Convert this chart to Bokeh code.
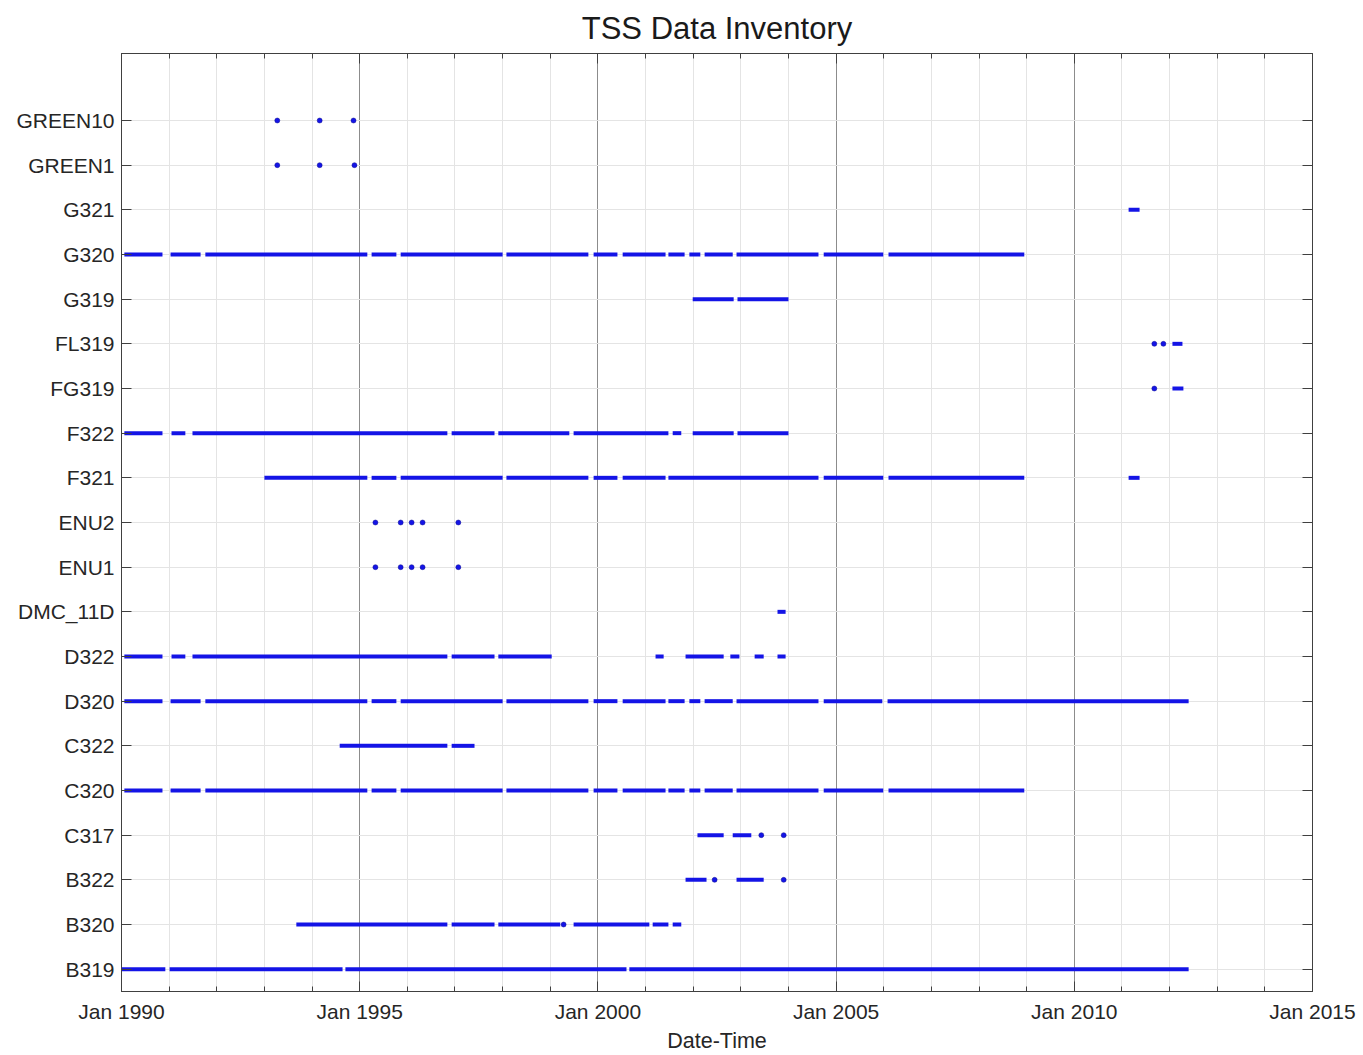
from bokeh.plotting import figure
from bokeh.models import (ColumnDataSource, FixedTicker, CustomJSTickFormatter, LinearAxis)
from bokeh.embed import file_html
from bokeh.resources import INLINE

# Stations, bottom to top
stations = ["B319", "B320", "B322", "C317", "C320", "C322", "D320", "D322",
            "DMC_11D", "ENU1", "ENU2", "F321", "F322", "FG319", "FL319",
            "G319", "G320", "G321", "GREEN1", "GREEN10"]

# Data availability ranges (decimal years, start, end); start == end is a single sample
B319 = [(1990.00, 1990.92), (1991.01, 1994.64), (1994.70, 2000.60), (2000.66, 2012.40)]
B320 = [(1993.67, 1996.84), (1996.93, 1997.83), (1997.91, 1999.21), (1999.28, 1999.28),
        (1999.49, 2001.08), (2001.15, 2001.48), (2001.57, 2001.75)]
B322 = [(2001.84, 2002.28), (2002.45, 2002.45), (2002.91, 2003.48), (2003.90, 2003.90)]
C317 = [(2002.09, 2002.64), (2002.83, 2003.22), (2003.43, 2003.43), (2003.90, 2003.90)]
C320 = [(1990.06, 1990.86), (1991.03, 1991.66), (1991.76, 1995.16), (1995.25, 1995.77),
        (1995.86, 1998.00), (1998.08, 1999.80), (1999.91, 2000.41), (2000.52, 2001.42),
        (2001.48, 2001.82), (2001.92, 2002.15), (2002.24, 2002.83), (2002.91, 2004.63),
        (2004.74, 2005.99), (2006.10, 2008.95)]
C322 = [(1994.58, 1996.84), (1996.93, 1997.41)]
D320 = [(1990.06, 1990.86), (1991.03, 1991.66), (1991.76, 1995.16), (1995.25, 1995.77),
        (1995.86, 1998.00), (1998.08, 1999.80), (1999.91, 2000.41), (2000.52, 2001.42),
        (2001.48, 2001.82), (2001.92, 2002.15), (2002.24, 2002.83), (2002.91, 2004.63),
        (2004.74, 2005.97), (2006.08, 2012.40)]
D322 = [(1990.06, 1990.86), (1991.05, 1991.34), (1991.49, 1996.84), (1996.93, 1997.83),
        (1997.91, 1999.03), (2001.21, 2001.38), (2001.84, 2002.64), (2002.78, 2002.97),
        (2003.29, 2003.48), (2003.77, 2003.94)]
DMC_11D = [(2003.77, 2003.94)]
ENU1 = [(1995.33, 1995.33), (1995.86, 1995.86), (1996.09, 1996.09), (1996.32, 1996.32),
        (1997.07, 1997.07)]
ENU2 = [(1995.33, 1995.33), (1995.86, 1995.86), (1996.09, 1996.09), (1996.32, 1996.32),
        (1997.07, 1997.07)]
F321 = [(1993.00, 1995.16), (1995.25, 1995.77), (1995.86, 1998.00), (1998.08, 1999.80),
        (1999.91, 2000.41), (2000.52, 2001.42), (2001.48, 2004.63), (2004.74, 2005.99),
        (2006.10, 2008.95), (2011.14, 2011.37)]
F322 = [(1990.06, 1990.86), (1991.05, 1991.34), (1991.49, 1996.84), (1996.93, 1997.83),
        (1997.91, 1999.40), (1999.49, 2001.48), (2001.57, 2001.75), (2001.99, 2002.85),
        (2002.93, 2004.00)]
FG319 = [(2011.68, 2011.68), (2012.06, 2012.29)]
FL319 = [(2011.68, 2011.68), (2011.87, 2011.87), (2012.06, 2012.27)]
G319 = [(2001.99, 2002.85), (2002.93, 2004.00)]
G320 = [(1990.06, 1990.86), (1991.03, 1991.66), (1991.76, 1995.16), (1995.25, 1995.77),
        (1995.86, 1998.00), (1998.08, 1999.80), (1999.91, 2000.41), (2000.52, 2001.42),
        (2001.48, 2001.82), (2001.92, 2002.15), (2002.24, 2002.83), (2002.91, 2004.63),
        (2004.74, 2005.99), (2006.10, 2008.95)]
G321 = [(2011.14, 2011.37)]
GREEN1 = [(1993.27, 1993.27), (1994.16, 1994.16), (1994.89, 1994.89)]
GREEN10 = [(1993.27, 1993.27), (1994.16, 1994.16), (1994.87, 1994.87)]

inventory = {"B319": B319, "B320": B320, "B322": B322, "C317": C317, "C320": C320,
             "C322": C322, "D320": D320, "D322": D322, "DMC_11D": DMC_11D, "ENU1": ENU1,
             "ENU2": ENU2, "F321": F321, "F322": F322, "FG319": FG319, "FL319": FL319,
             "G319": G319, "G320": G320, "G321": G321, "GREEN1": GREEN1, "GREEN10": GREEN10}

year_ticks = [1990, 1995, 2000, 2005, 2010, 2015]
minor_years = list(range(1990, 2016))

x0, x1, ys, px, py = [], [], [], [], []
for i, name in enumerate(stations):
    for (a, b) in inventory[name]:
        if a == b:
            px.append(a)
            py.append(i + 1)
        else:
            x0.append(a)
            x1.append(b)
            ys.append(i + 1)

seg_src = ColumnDataSource(dict(x0=x0, x1=x1, y=ys))
pt_src = ColumnDataSource(dict(x=px, y=py))

FONT = "Liberation Sans"
TXT = "#262626"
BLUE = "#1414e6"

p = figure(title="TSS Data Inventory", x_range=(1990, 2015), y_range=(0.5, 21.5),
           frame_width=1191, frame_height=938, output_backend="svg",
           toolbar_location=None, min_border_left=121, min_border_right=45,
           min_border_top=53, min_border_bottom=3, background_fill_color="white")

p.title.align = "center"
p.title.vertical_align = "top"
p.title.text_font = FONT
p.title.text_font_size = "31px"
p.title.text_font_style = "normal"
p.title.text_color = "#1a1a1a"
p.title.standoff = 12

p.segment(x0="x0", y0="y", x1="x1", y1="y", source=seg_src, line_color=BLUE,
          line_width=4, line_cap="butt")
p.scatter(x="x", y="y", source=pt_src, size=5, fill_color=BLUE, line_color="#101090",
          line_width=0.5)

xt = FixedTicker(ticks=year_ticks, minor_ticks=minor_years)
yt = FixedTicker(ticks=list(range(1, len(stations) + 1)), minor_ticks=[])

p.xaxis.ticker = xt
p.xaxis.formatter = CustomJSTickFormatter(code="return 'Jan ' + tick.toFixed(0)")
p.xaxis.axis_label = "Date-Time"
p.yaxis.ticker = yt
p.yaxis.formatter = CustomJSTickFormatter(args=dict(names=stations),
                                          code="return names[Math.round(tick) - 1]")

for ax in [p.xaxis[0], p.yaxis[0]]:
    ax.major_label_text_font = FONT
    ax.major_label_text_font_size = "21px"
    ax.major_label_text_color = TXT
    ax.axis_label_text_font = FONT
    ax.axis_label_text_font_size = "21.5px"
    ax.axis_label_text_font_style = "normal"
    ax.axis_label_text_color = TXT
    ax.axis_line_color = "#404040"
    ax.major_tick_line_color = "#404040"
    ax.minor_tick_line_color = "#404040"
    ax.major_tick_in = 10
    ax.major_tick_out = 0
    ax.minor_tick_in = 5
    ax.minor_tick_out = 0
p.xaxis.major_label_standoff = 8
p.xaxis.axis_label_standoff = 3
p.yaxis.major_label_standoff = 7

top = LinearAxis(ticker=FixedTicker(ticks=year_ticks, minor_ticks=minor_years),
                 formatter=CustomJSTickFormatter(code="return ''"))
right = LinearAxis(ticker=FixedTicker(ticks=list(range(1, len(stations) + 1)), minor_ticks=[]),
                   formatter=CustomJSTickFormatter(code="return ''"))
for ax in [top, right]:
    ax.axis_line_color = "#404040"
    ax.major_tick_line_color = "#404040"
    ax.minor_tick_line_color = "#404040"
    ax.major_tick_in = 10
    ax.major_tick_out = 0
    ax.minor_tick_in = 5
    ax.minor_tick_out = 0
    ax.major_label_standoff = 0
    ax.major_label_text_font_size = "1px"
p.add_layout(top, "above")
p.add_layout(right, "right")

p.xgrid.ticker = xt
p.xgrid.grid_line_color = "#8c8c8c"
p.xgrid.grid_line_width = 1
p.xgrid.minor_grid_line_color = "#e4e4e4"
p.ygrid.ticker = yt
p.ygrid.grid_line_color = "#e4e4e4"
p.outline_line_color = "#404040"

open("out.html", "w").write(file_html(p, INLINE))
